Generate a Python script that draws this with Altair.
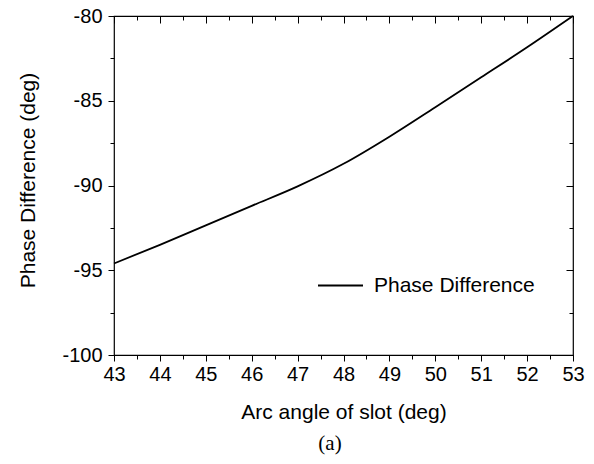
import altair as alt
import pandas as pd

# ---- data ----
angles = [43, 44, 45, 46, 47, 48, 49, 50, 51, 52, 53]
phase_diff = [-94.6, -93.5, -92.35, -91.2, -90.05, -88.72, -87.12, -85.38, -83.62, -81.85, -80.0]
series_name = "Phase Difference"

x_major = [43, 44, 45, 46, 47, 48, 49, 50, 51, 52, 53]
x_minor = [43.5, 44.5, 45.5, 46.5, 47.5, 48.5, 49.5, 50.5, 51.5, 52.5]
y_major = [-100, -95, -90, -85, -80]
y_minor = [-97.5, -92.5, -87.5, -82.5]

df = pd.DataFrame({"angle": angles, "phase": phase_diff, "series": [series_name] * len(angles)})

W, H = 459, 339
FONT = "Liberation Sans"

xs = alt.Scale(domain=[43, 53], nice=False, zero=False)
ys = alt.Scale(domain=[-100, -80], nice=False, zero=False)

base = alt.Chart(df)

main = base.mark_line(color="black", strokeWidth=1.8, interpolate="monotone").encode(
    x=alt.X("angle:Q", scale=xs, axis=alt.Axis(
        orient="bottom", values=x_major, labelExpr="'' + datum.value", tickSize=6, labelPadding=3,
        labelFontSize=20, labelFont=FONT, labelColor="black", domain=False,
        labelFlush=False, labelOverlap=False,
        tickColor="black", tickWidth=1,
        title="Arc angle of slot (deg)", titleFont=FONT, titleFontSize=21,
        titleFontWeight="normal", titleColor="black", titleBaseline="alphabetic",
        titleY=63)),
    y=alt.Y("phase:Q", scale=ys, axis=alt.Axis(
        orient="left", values=y_major, labelExpr="'' + datum.value", tickSize=6, labelPadding=6,
        labelFontSize=20, labelFont=FONT, labelColor="black", domain=False,
        labelFlush=False, labelOverlap=False,
        tickColor="black", tickWidth=1,
        title="Phase Difference (deg)", titleFont=FONT, titleFontSize=21,
        titleFontWeight="normal", titleColor="black", titleBaseline="alphabetic",
        titleX=-80, titleY=164)),
    color=alt.Color("series:N", scale=alt.Scale(range=["black"]), legend=alt.Legend(
        title=None, orient="none", legendX=203, legendY=246, padding=0,
        symbolType="stroke", symbolSize=2025, symbolStrokeWidth=1.8,
        symbolStrokeColor="black", labelFont=FONT, labelFontSize=21,
        labelColor="black", labelOffset=10, labelLimit=400)),
)

def axis_layer(xvals, yvals, size, opposite):
    xo = -H if opposite else 0
    yo = -W if opposite else 0
    return base.mark_line(opacity=0).encode(
        x=alt.X("angle:Q", scale=xs, axis=alt.Axis(
            orient="bottom", values=xvals, tickSize=size, labels=False, domain=False,
            title=None, tickColor="black", tickWidth=1, offset=xo, grid=False)),
        y=alt.Y("phase:Q", scale=ys, axis=alt.Axis(
            orient="left", values=yvals, tickSize=size, labels=False, domain=False,
            title=None, tickColor="black", tickWidth=1, offset=yo, grid=False)),
    )

chart = alt.layer(
    main,
    axis_layer(x_minor, y_minor, 4, False),
    axis_layer(x_major, y_major, 7, True),
    axis_layer(x_minor, y_minor, 4, True),
).resolve_axis(x="independent", y="independent").properties(
    width=W, height=H,
    autosize=alt.AutoSizeParams(type="none"),
    padding={"left": 106, "top": 8, "right": 13, "bottom": 101},
    title=alt.TitleParams("(a)", orient="bottom", anchor="middle", frame="group",
                          font="Liberation Serif", fontSize=21, fontWeight="normal",
                          color="black", dx=-13.5, offset=11),
).configure_view(stroke="black", strokeWidth=1.2).configure_axis(grid=False)

chart.save("out.html", embed_options={"renderer": "svg", "actions": False})
